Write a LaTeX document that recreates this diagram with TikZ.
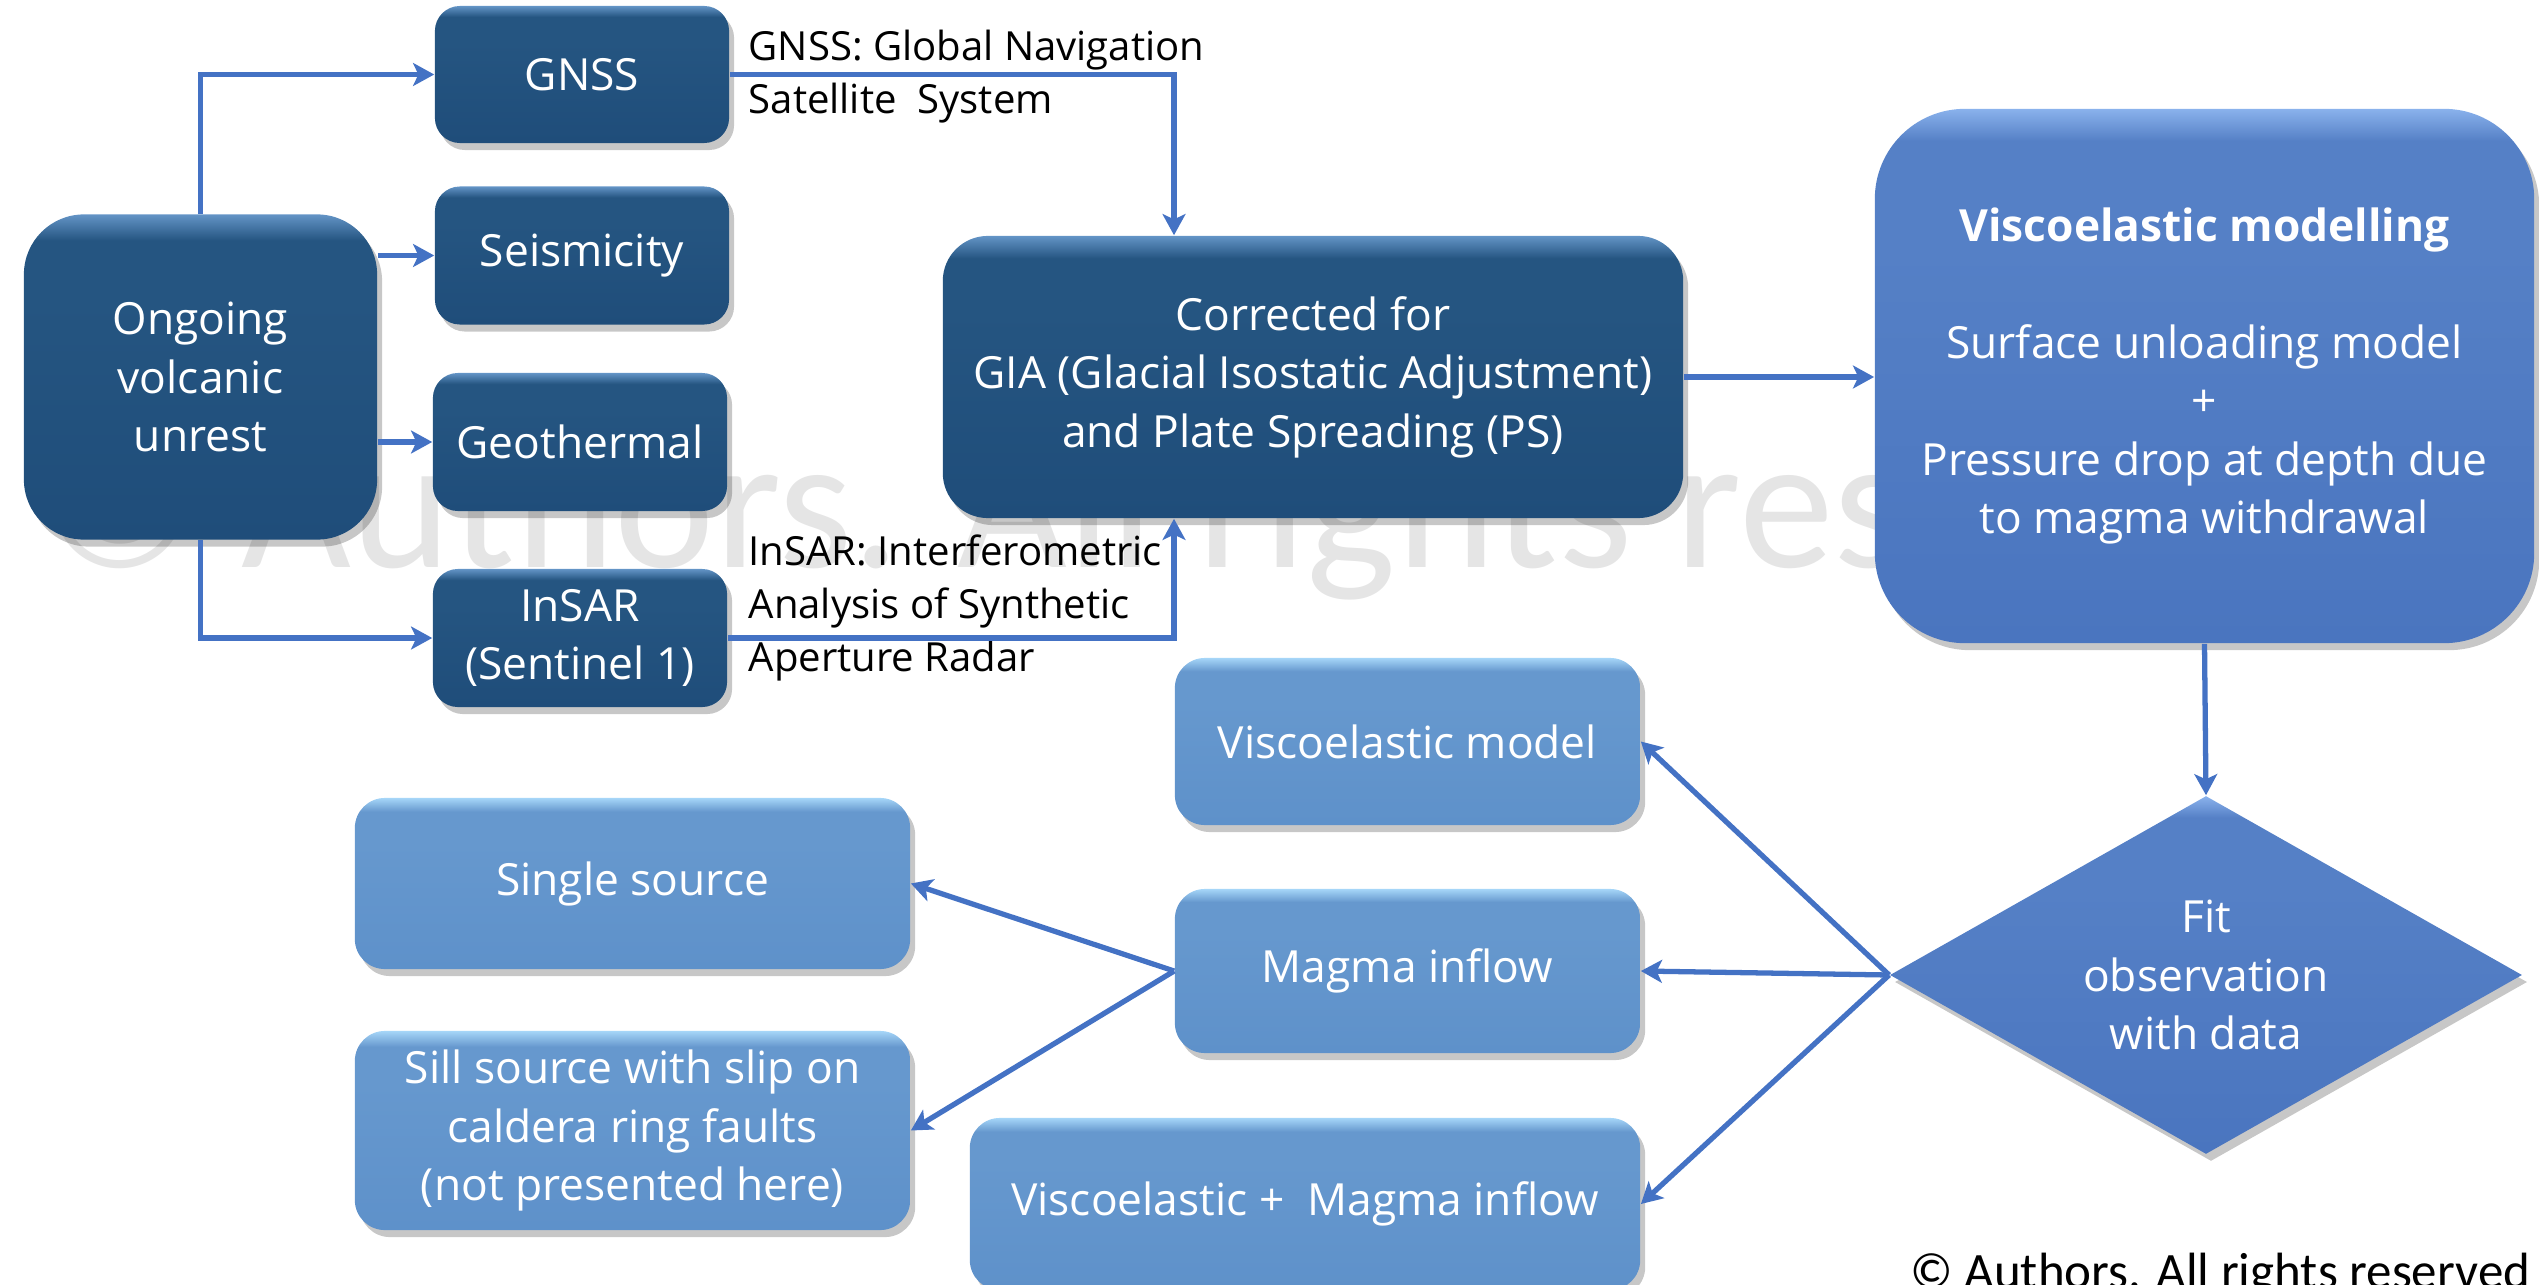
\documentclass[tikz,border=0pt]{standalone}
\usepackage{fontspec}
\setmainfont{Open Sans}
\newfontfamily\califont{Carlito}
\usetikzlibrary{arrows.meta,shapes.geometric,shadows,calc}

\definecolor{dkbot}{HTML}{1F4D7A}
\definecolor{dkmid}{HTML}{255581}
\definecolor{dktop}{HTML}{6394C6}
\definecolor{ltbot}{HTML}{5E91CA}
\definecolor{ltmid}{HTML}{6698CE}
\definecolor{lttop}{HTML}{A6D6F8}
\definecolor{mdbot}{HTML}{4A75BF}
\definecolor{mdmid}{HTML}{5580C6}
\definecolor{mdtop}{HTML}{8AB2EC}
\definecolor{arrowc}{HTML}{4472C4}
\definecolor{wmark}{HTML}{E5E5E5}

\pgfdeclareverticalshading{darkshade}{100bp}{color(0bp)=(dkbot); color(25bp)=(dkbot); color(62bp)=(dkmid); color(71bp)=(dkmid); color(75bp)=(dktop); color(100bp)=(dktop)}
\pgfdeclareverticalshading{lightshade}{100bp}{color(0bp)=(ltbot); color(25bp)=(ltbot); color(62bp)=(ltmid); color(71bp)=(ltmid); color(75bp)=(lttop); color(100bp)=(lttop)}
\pgfdeclareverticalshading{midshade}{100bp}{color(0bp)=(mdbot); color(25bp)=(mdbot); color(62bp)=(mdmid); color(72bp)=(mdmid); color(75bp)=(mdtop); color(100bp)=(mdtop)}

\newcommand\bxfont{\fontsize{12.6}{16.6}\selectfont}
\newcommand\lbfont{\fontsize{11.4}{15.1}\selectfont}

\tikzset{
  boxbase/.style={shape=rectangle, align=center, inner sep=0pt, text=white, font=\bxfont,
    drop shadow={shadow xshift=0.05cm, shadow yshift=-0.07cm, opacity=0.22, fill=black}},
  dkbox/.style={boxbase, shading=darkshade, rounded corners=0.25cm},
  ltbox/.style={boxbase, shading=lightshade, rounded corners=0.3cm},
  mdbox/.style={boxbase, shading=midshade, rounded corners=0.9cm},
  conn/.style={draw=arrowc, line width=1.5pt, -{Stealth[length=6pt,width=6.5pt,inset=1.5pt]}},
  lbl/.style={align=left, text=black, font=\lbfont, inner sep=0pt}
}

\begin{document}
\begin{tikzpicture}[x=0.01cm,y=-0.01cm]
\useasboundingbox (0,0) rectangle (2539,1285);

% watermark
\node[anchor=base west, inner sep=0pt, text=wmark, font=\califont\fontsize{54}{60}\selectfont] (wm) at (40,567) {© Authors. All rights reserved};

% top-left group
\node[dkbox, rounded corners=0.6cm, minimum width=3.53cm, minimum height=3.25cm] (ongoing) at (200.5,377) {Ongoing\\volcanic\\unrest};
\node[dkbox, minimum width=2.94cm, minimum height=1.37cm] (gnss) at (582,74.5) {GNSS};
\node[dkbox, minimum width=2.94cm, minimum height=1.38cm] (seis) at (582,255.5) {Seismicity};
\node[dkbox, minimum width=2.94cm, minimum height=1.38cm] (geo) at (580,442) {Geothermal};
\node[dkbox, minimum width=2.94cm, minimum height=1.38cm] (insar) at (580,638) {InSAR\\(Sentinel 1)};
\node[dkbox, rounded corners=0.45cm, minimum width=7.40cm, minimum height=2.82cm] (corr) at (1313,377) {Corrected for\\GIA (Glacial Isostatic Adjustment)\\and Plate Spreading (PS)};

\node[mdbox, minimum width=6.59cm, minimum height=5.34cm] (vmod) at (2204.5,376) {\textbf{Viscoelastic modelling}\\[16.6pt]Surface unloading model\\+\\Pressure drop at depth due\\to magma withdrawal};

\node[boxbase, shape=diamond, aspect=1.77, minimum width=6.32cm, minimum height=3.58cm, shading=midshade] (fit) at (2206,975) {Fit\\observation\\with data};

\node[ltbox, minimum width=4.65cm, minimum height=1.67cm] (vem) at (1407.5,741.5) {Viscoelastic model};
\node[ltbox, minimum width=4.65cm, minimum height=1.64cm] (magma) at (1407.5,971) {Magma inflow};
\node[ltbox, minimum width=6.70cm, minimum height=1.72cm] (vpm) at (1305,1204) {Viscoelastic +\ \ Magma inflow};
\node[ltbox, minimum width=5.55cm, minimum height=1.71cm] (single) at (632.5,883.5) {Single source};
\node[ltbox, minimum width=5.55cm, minimum height=1.99cm] (sill) at (632.5,1130.5) {Sill source with slip on\\caldera ring faults\\(not presented here)};

% labels
\node[lbl, anchor=west] (gnsslbl) at (748,77) {GNSS: Global Navigation\\Satellite\ \ System};
\node[lbl, anchor=west] (insarlbl) at (748,608) {InSAR: Interferometric\\Analysis of Synthetic\\Aperture Radar};

% connectors
\coordinate (cx) at (1174,0);
\draw[conn] (ongoing.north) |- (gnss.west);
\draw[conn] (ongoing.east |- seis.west) -- (seis.west);
\draw[conn] (ongoing.east |- geo.west) -- (geo.west);
\draw[conn] (ongoing.south) |- (insar.west);
\draw[conn] (gnss.east) -| (cx |- corr.north);
\draw[conn] (insar.east) -| (cx |- corr.south);
\draw[conn] (corr.east) -- (corr.east -| vmod.west);
\draw[conn] (vmod.south) -- (fit.north);
\draw[conn] (fit.west) -- (vem.east);
\draw[conn] (fit.west) -- (magma.east);
\draw[conn] (fit.west) -- (vpm.east);
\draw[conn] (magma.west) -- (single.east);
\draw[conn] (magma.west) -- (sill.east);

% copyright
\node[anchor=base east, inner sep=0pt, text=black, font=\califont\fontsize{14.5}{17}\selectfont] (copy) at (2531,1288) {© Authors. All rights reserved};
\end{tikzpicture}
\end{document}
